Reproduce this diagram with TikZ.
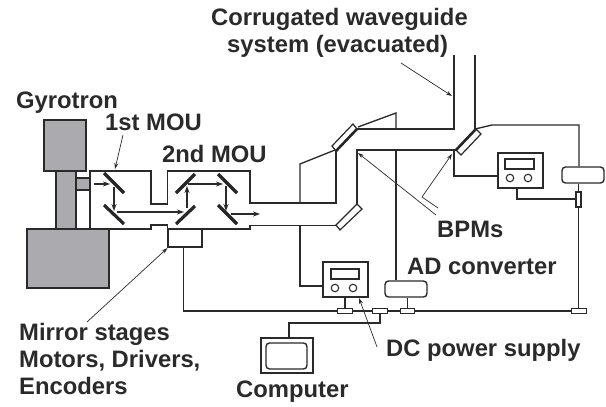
\documentclass[tikz,border=0pt]{standalone}
\usepackage{fontspec}
\setmainfont{Liberation Sans}
\usetikzlibrary{arrows.meta}
\definecolor{ink}{HTML}{2A2A2A}
\definecolor{body}{HTML}{ABABAF}
\tikzset{
  wire/.style={draw=ink,line width=1.35pt,line join=miter},
  thin arrow/.style={draw=ink,line width=0.7pt,-{Stealth[length=6pt,width=4pt]}},
  beam/.style={draw=ink,line width=1.1pt,-{Stealth[length=7pt,width=5pt]}},
  mirror/.style={draw=black!85,line width=3.2pt},
  label/.style={anchor=base west,inner sep=0pt,text=ink,font=\fontsize{23.8}{26}\selectfont\bfseries},
  solid block/.style={draw=ink,line width=1.4pt,fill=body,inner sep=0pt},
  boxn/.style={draw=ink,line width=1.4pt,fill=white,inner sep=0pt},
  round box/.style={boxn,rounded corners=3.5pt},
  knob/.style={circle,draw=ink,line width=1.1pt,fill=white,inner sep=0pt,minimum size=7.5pt},
  plug/.style={boxn,line width=1.2pt,minimum width=14.5pt,minimum height=5.5pt},
  window/.style={draw=ink,line width=1.2pt,fill=white},
}
\begin{document}
\begin{tikzpicture}[x=1pt,y=-1pt]
\useasboundingbox (0,0) rectangle (606,407);

% Gyrotron
\node[solid block,minimum width=42pt,minimum height=51pt] (gyroTop) at (65,145.5) {};
\node[solid block,minimum width=20pt,minimum height=58pt] (gyroCol) at (66,200) {};
\node[solid block,minimum width=82pt,minimum height=59pt] (gyroBase) at (68,258.5) {};
\node[solid block,minimum width=14pt,minimum height=12pt] (gyroPort) at (83,184) {};

% MOU enclosures and waveguide
\draw[wire] (90,229) -- (90,171) -- (151,171) -- (151,204) -- (167.5,204) -- (167.5,171) -- (250,171) -- (250,203) -- (300,203) -- (336,203) -- (336,150);
\draw[wire] (90,229) -- (151,229) -- (151,225) -- (167.5,225) -- (167.5,229) -- (250,229) -- (250,225.5) -- (338,225.5);
\draw[wire] (300,203) -- (300,164) -- (335,150);
\draw[wire] (358,127) -- (396,113) -- (396,129);
\draw[wire] (356,129) -- (454,129) -- (454,55);
\draw[wire] (475,55) -- (475,129);
\draw[wire] (357,205) -- (357,150) -- (456,150);

% Mirrors
\draw[mirror] (104,173) -- (124,193);
\draw[mirror] (104,205) -- (124,224);
\draw[mirror] (176,193) -- (195,174);
\draw[mirror] (176,224) -- (195,206);
\draw[mirror] (218,174) -- (237,193);
\draw[mirror] (218,205) -- (237,224);

% Beam
\draw[beam] (94,184) -- (110,184);
\draw[beam] (114,187) -- (114,211);
\draw[beam] (117,212) -- (184,212);
\draw[beam] (187,208) -- (187,186);
\draw[beam] (188,184) -- (223,184);
\draw[beam] (226,186) -- (226,211);
\draw[beam] (231,214) -- (260,214);

% Mirror stage box
\node[boxn,minimum width=34pt,minimum height=18pt] (stage) at (185,238) {};

% BPM windows
\draw[window] (332,146) -- (353,124) -- (357,129) -- (336,151) -- cycle;
\draw[mirror,line width=2.6pt] (336,151) -- (357,129);
\draw[window] (336,225) -- (357,204) -- (362,209) -- (340,230) -- cycle;
\draw[window] (456,150) -- (476,129) -- (481,134) -- (461,155) -- cycle;
\draw[mirror,line width=2.6pt] (456,150) -- (476,129);

% Instruments
\node[boxn,minimum width=45pt,minimum height=35pt] (psA) at (345.5,279.5) {};
\node[boxn,line width=1.1pt,minimum width=28pt,minimum height=10pt] (psAscreen) at (345,274) {};
\node[knob] (psAk1) at (335,288) {};
\node[knob] (psAk2) at (353,288) {};

\node[boxn,minimum width=45pt,minimum height=35pt] (psB) at (520.5,170.5) {};
\node[boxn,line width=1.1pt,minimum width=29pt,minimum height=10pt] (psBscreen) at (519.5,164) {};
\node[knob] (psBk1) at (510,178) {};
\node[knob] (psBk2) at (528,178) {};

\node[round box,minimum width=42pt,minimum height=16pt] (adA) at (406,289) {};
\node[round box,minimum width=42pt,minimum height=16pt] (adB) at (583,175) {};

\node[boxn,minimum width=5pt,minimum height=15pt] (plugV) at (578.5,199.5) {};
\node[plug] (plugPS) at (345,311) {};
\node[plug] (plugPC) at (380,311) {};
\node[plug] (plugAD) at (407.5,311) {};
\node[plug] (plugR) at (579,311) {};

\node[boxn,minimum width=52pt,minimum height=35pt] (pc) at (287,355.5) {};
\node[round box,minimum width=41pt,minimum height=26pt] (pcScreen) at (286.5,356) {};

% Wiring
\coordinate (busL) at (183.5,311);
\coordinate (pcBend) at (380,323);
\draw[wire] (stage.south -| busL) -- (busL) -- (plugPS.west);
\draw[wire] (plugPS.east) -- (plugPC.west);
\draw[wire] (plugPC.east) -- (plugAD.west);
\draw[wire] (plugAD.east) -- (plugR.west);
\draw[wire] (psA.south -| plugPS) -- (plugPS.north);
\draw[wire] (adA.south -| plugAD) -- (plugAD.north);
\draw[wire] (plugPC.south) -- (pcBend) -- (289,323) -- (pc.north -| 289,0);
\draw[wire] (300,226) -- (300,286) -- (psA.west |- 300,286);
\draw[wire] (396,150) -- (adA.north -| 396,0);
\draw[wire] (454,150) -- (454,176) -- (psB.west |- 454,176);
\draw[wire] (psB.south -| 517,0) -- (517,199) -- (plugV.west |- 517,199);
\draw[wire] (475,129) -- (492,125) -- (579,125) -- (adB.north -| 579,0);
\draw[wire] (adB.south -| plugV) -- (plugV.north);
\draw[wire] (plugV.south) -- (plugR.north -| plugV);

% Labels
\node[label] (tCorr) at (211,25) {Corrugated waveguide};
\node[label] (tSys) at (227,52) {system (evacuated)};
\node[label] (tGyro) at (16,108) {Gyrotron};
\node[label] (t1st) at (105,130) {1st MOU};
\node[label] (t2nd) at (162,162) {2nd MOU};
\node[label] (tBPM) at (437,237) {BPMs};
\node[label] (tAD) at (407,274) {AD converter};
\node[label] (tDC) at (386,356) {DC power supply};
\node[label] (tPC) at (236,397) {Computer};
\node[label] (tMir) at (19,340) {Mirror stages};
\node[label] (tMot) at (19,367) {Motors, Drivers,};
\node[label] (tEnc) at (19,394) {Encoders};

% Annotation arrows
\coordinate (a1) at (123,135);
\coordinate (a2) at (87,322);
\coordinate (a3) at (401,63);
\coordinate (a4) at (436,215);
\coordinate (a5) at (438,208);
\coordinate (a6) at (422,197);
\coordinate (a7) at (377,347);
\draw[thin arrow] (a1) -- (115,169);
\draw[thin arrow] (a2) -- (167.5,248);
\draw[thin arrow] (a3) -- (452,96);
\draw[thin arrow] (a4) -- (358,153);
\draw[thin arrow] (a5) -- (a6) -- (452,154);
\draw[thin arrow] (a7) -- (359,298);
\end{tikzpicture}
\end{document}
